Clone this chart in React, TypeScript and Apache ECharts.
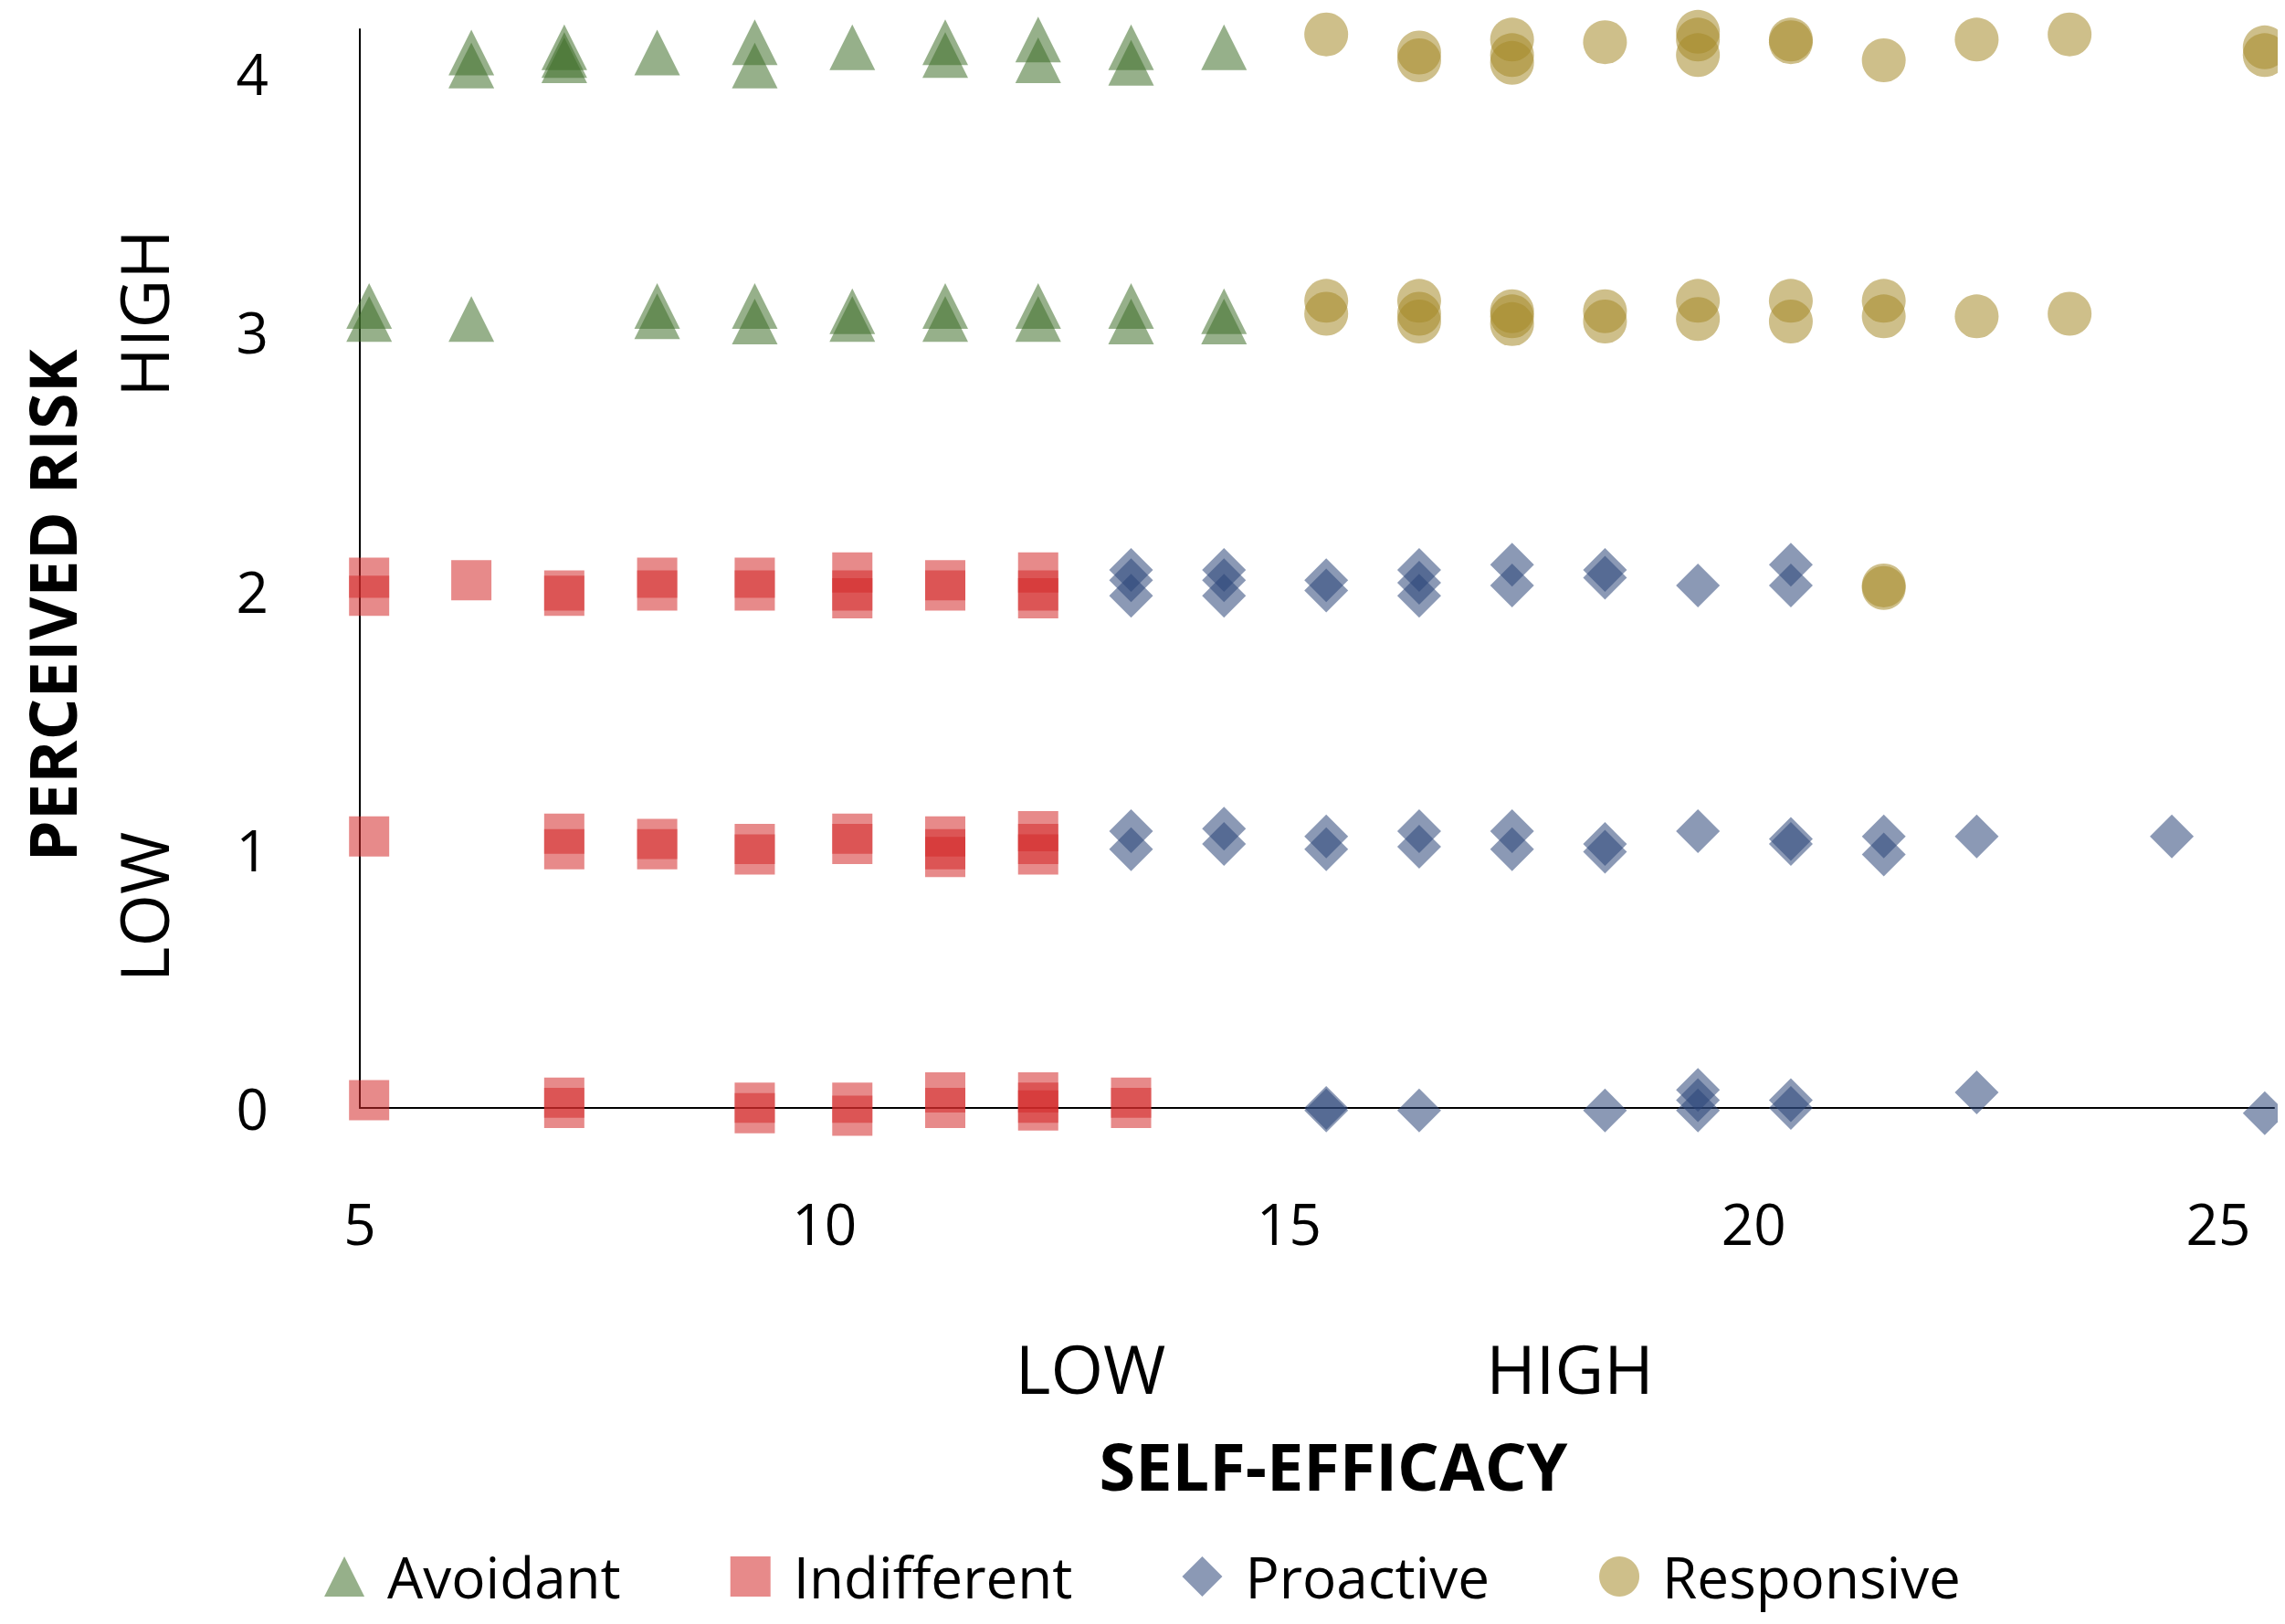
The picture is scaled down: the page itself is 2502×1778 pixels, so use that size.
import { useEffect, useRef } from 'react';
import * as echarts from 'echarts';

const avoidant: [number, number][] = [
  [6.2, 4.08], [6.2, 4.03], [7.2, 4.1], [7.2, 4.05], [7.2, 4.07], [8.2, 4.08], [9.25, 4.12], [9.25, 4.03],
  [10.3, 4.1], [11.3, 4.12], [11.3, 4.07], [12.3, 4.13], [12.3, 4.05], [13.3, 4.1], [13.3, 4.04], [14.3, 4.1],
  [5.1, 3.1], [5.1, 3.05], [6.2, 3.05], [8.2, 3.1], [8.2, 3.06], [9.25, 3.1], [9.25, 3.04], [10.3, 3.08],
  [10.3, 3.05], [11.3, 3.1], [11.3, 3.05], [12.3, 3.1], [12.3, 3.05], [13.3, 3.1], [13.3, 3.04], [14.3, 3.08], [14.3, 3.04],
];
const indifferent: [number, number][] = [
  [5.1, 2.05], [5.1, 1.98], [6.2, 2.04], [7.2, 2.0], [7.2, 1.98], [8.2, 2.05], [8.2, 2.0], [9.25, 2.05], [9.25, 2.0],
  [10.3, 2.07], [10.3, 2.0], [10.3, 1.97], [11.3, 2.04], [11.3, 2.0], [12.3, 2.07], [12.3, 2.0], [12.3, 1.97],
  [5.1, 1.05], [7.2, 1.06], [7.2, 1.0], [8.2, 1.04], [8.2, 1.0], [9.25, 1.02], [9.25, 0.98], [10.3, 1.06], [10.3, 1.02],
  [11.3, 1.05], [11.3, 1.0], [11.3, 0.97], [12.3, 1.07], [12.3, 1.02], [12.3, 0.98],
  [5.1, 0.03], [7.2, 0.04], [7.2, 0.0], [9.25, 0.02], [9.25, -0.02], [10.3, 0.02], [10.3, -0.03], [11.3, 0.06],
  [11.3, 0.0], [12.3, 0.06], [12.3, 0.02], [12.3, -0.01], [13.3, 0.04], [13.3, 0.0],
];
const proactive: [number, number][] = [
  [13.3, 2.08], [13.3, 2.04], [13.3, 1.98], [14.3, 2.08], [14.3, 2.04], [14.3, 1.98], [15.4, 2.04], [15.4, 2.0],
  [16.4, 2.08], [16.4, 2.03], [16.4, 1.98], [17.4, 2.1], [17.4, 2.02], [18.4, 2.08], [18.4, 2.05], [19.4, 2.02],
  [20.4, 2.1], [20.4, 2.02],
  [13.3, 1.07], [13.3, 1.0], [14.3, 1.08], [14.3, 1.02], [15.4, 1.05], [15.4, 1.0], [16.4, 1.07], [16.4, 1.01],
  [17.4, 1.07], [17.4, 1.0], [18.4, 1.02], [18.4, 0.99], [19.4, 1.07], [20.4, 1.04], [20.4, 1.02], [21.4, 1.05],
  [21.4, 0.98], [22.4, 1.05], [24.5, 1.05],
  [15.4, 0.0], [15.4, -0.01], [16.4, -0.01], [18.4, -0.01], [19.4, 0.07], [19.4, 0.03], [19.4, -0.01], [20.4, 0.03],
  [20.4, 0.0], [22.4, 0.06], [25.5, -0.02],
];
const responsive: [number, number][] = [
  [15.4, 4.15], [16.4, 4.08], [16.4, 4.05], [17.4, 4.13], [17.4, 4.07], [17.4, 4.04], [18.4, 4.12], [19.4, 4.16],
  [19.4, 4.13], [19.4, 4.07], [20.4, 4.13], [20.4, 4.12], [21.4, 4.05], [22.4, 4.13], [23.4, 4.15], [25.5, 4.1], [25.5, 4.07],
  [15.4, 3.12], [15.4, 3.07], [16.4, 3.12], [16.4, 3.07], [16.4, 3.04], [17.4, 3.08], [17.4, 3.06], [17.4, 3.03],
  [18.4, 3.08], [18.4, 3.04], [19.4, 3.12], [19.4, 3.05], [20.4, 3.12], [20.4, 3.04], [21.4, 3.12], [21.4, 3.06],
  [22.4, 3.06], [23.4, 3.07], [21.4, 2.02], [21.4, 2.01],
];

const font = 'Open Sans, DejaVu Sans, sans-serif';

export default function App() {
  const ref = useRef<HTMLDivElement>(null);
  useEffect(() => {
    if (!ref.current) return;
    const chart = echarts.init(ref.current, undefined, { renderer: 'svg' });
    const mk = (name: string, data: [number, number][], symbol: string, color: string, size: number) => ({
      name, type: 'scatter', data, symbol, symbolSize: size, clip: false,
      itemStyle: { color, opacity: 0.55 },
    });
    chart.setOption({
      animation: false,
      grid: { left: 386, right: 4, top: 24, bottom: 557 },
      xAxis: {
        type: 'value', min: 5, max: 25.6, interval: 5,
        axisLine: { onZero: true, lineStyle: { color: '#000', width: 2 } },
        axisTick: { show: false }, splitLine: { show: false },
        axisLabel: {
          fontSize: 62, color: '#000', fontFamily: font, margin: 95,
          formatter: (v: number) => (v % 5 === 0 ? String(v) : ''),
        },
      },
      yAxis: {
        type: 'value', min: 0, max: 4.17, interval: 1,
        axisLine: { show: true, lineStyle: { color: '#000', width: 2 } },
        axisTick: { show: false }, splitLine: { show: false },
        axisLabel: {
          fontSize: 62, color: '#000', fontFamily: font, margin: 100,
          formatter: (v: number) => (Number.isInteger(v) ? String(v) : ''),
        },
      },
      legend: {
        bottom: 8, left: 'center', itemGap: 120, itemWidth: 44, itemHeight: 44,
        textStyle: { fontSize: 62, fontFamily: font, color: '#000', padding: [0, 0, 0, 20] },
      },
      graphic: [
        { type: 'text', x: 1186, y: 1489, style: { text: 'LOW', font: `74px ${font}`, fill: '#000', align: 'center', verticalAlign: 'middle' } },
        { type: 'text', x: 1711, y: 1489, style: { text: 'HIGH', font: `74px ${font}`, fill: '#000', align: 'center', verticalAlign: 'middle' } },
        { type: 'text', x: 1452, y: 1596, style: { text: 'SELF-EFFICACY', font: `bold 72px ${font}`, fill: '#000', align: 'center', verticalAlign: 'middle' } },
        { type: 'text', x: 48, y: 655, rotation: Math.PI / 2, style: { text: 'PERCEIVED RISK', font: `bold 72px ${font}`, fill: '#000', align: 'center', verticalAlign: 'middle' } },
        { type: 'text', x: 148, y: 985, rotation: Math.PI / 2, style: { text: 'LOW', font: `74px ${font}`, fill: '#000', align: 'center', verticalAlign: 'middle' } },
        { type: 'text', x: 148, y: 335, rotation: Math.PI / 2, style: { text: 'HIGH', font: `74px ${font}`, fill: '#000', align: 'center', verticalAlign: 'middle' } },
      ],
      series: [
        mk('Avoidant', avoidant, 'triangle', '#3f6f2a', 50),
        mk('Indifferent', indifferent, 'rect', '#d42a2a', 44),
        mk('Proactive', proactive, 'diamond', '#2c4578', 48),
        mk('Responsive', responsive, 'circle', '#a58a2a', 48),
      ],
    });
    return () => chart.dispose();
  }, []);
  return <div ref={ref} style={{ width: 2486, height: 1762 }} />;
}
